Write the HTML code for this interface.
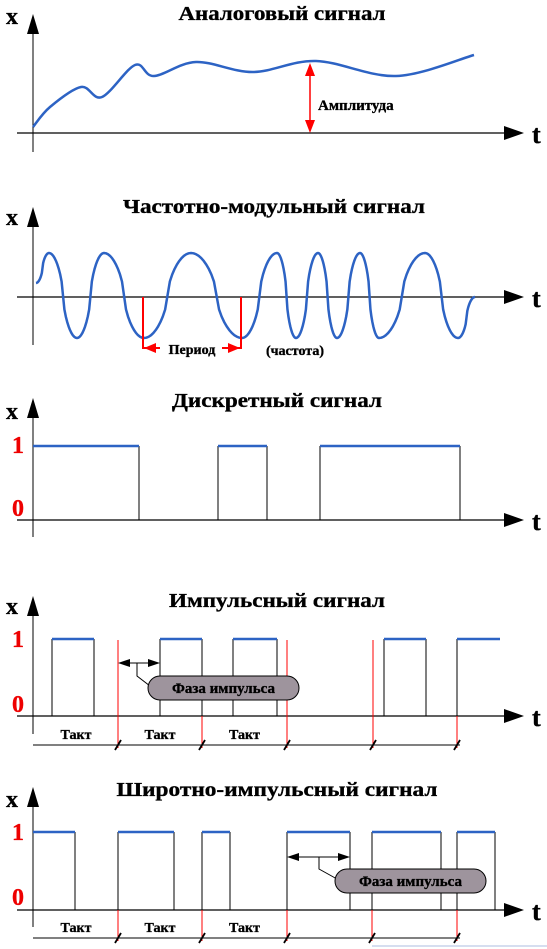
<!DOCTYPE html>
<html><head><meta charset="utf-8"><style>
html,body{margin:0;padding:0;background:#fff;}
svg{display:block;}
text{font-family:"Liberation Serif",serif;font-weight:bold;stroke:#000;stroke-width:0.35;}
</style></head><body>
<svg id="s" width="547" height="949" viewBox="0 0 547 949" xmlns="http://www.w3.org/2000/svg">
<g id="g"></g>
</svg>
<script>
// analog signal (x px, y px)
const analogT=[33,50,81,102,135,154,196,253,316,396,474];
const analogV=[127,107,87,97,65,76,62,72,61,76,55];
// FM signal extrema
const fmT=[36,49,77,104,144,191,242,277,296,318,337,360,379,425,458,475];
const fmV=[283,253,338,253,338,253,338,253,338,253,338,253,338,253,338,297];
// discrete pulses [start,end]
const discStart=[33,218,320];
const discEnd=[139,267,460];
// impulse pulses
const impStart=[52,160,233,384,457];
const impEnd=[94,202,277,426,500];
const impFall=[true,true,true,true,false];
const impClock=[118,202,287,373,457];
// PWM pulses
const pwmStart=[33,118,202,287,372,457];
const pwmEnd=[75,174,230,350,441,495];
const pwmClock=[118,202,287,372,457];
const taktLabels=["Такт","Такт","Такт"];

const NS="http://www.w3.org/2000/svg";
const G=document.getElementById('g');
function el(tag,attrs,parent){const e=document.createElementNS(NS,tag);for(const k in attrs)e.setAttribute(k,attrs[k]);(parent||G).appendChild(e);return e;}
function txt(x,y,s,size,fill,anchor,len){const e=el('text',{x:x,y:y,'font-size':size,fill:fill||'#000','text-anchor':anchor||'start'});e.style.stroke=fill||'#000';if(len){e.setAttribute('textLength',len);e.setAttribute('lengthAdjust','spacingAndGlyphs');}e.textContent=s;return e;}

function axes(name,top,axisY,bottom,title,tcx,tbase,tlen,xBase){
  const grp=el('g',{});
  
  
  const ya=el('line',{x1:33,y1:bottom,x2:33,y2:top+10,stroke:'#000','stroke-width':1},grp);
  
  
  const xa=el('line',{x1:17,y1:axisY,x2:510,y2:axisY,stroke:'#000','stroke-width':1.3},grp);
  
  
  el('path',{d:`M504,${axisY-7} L524,${axisY} L504,${axisY+7}z`,fill:'#000'},grp);
  el('path',{d:`M27,${top+20} L33,${top} L39,${top+20}z`,fill:'#000'},grp);
  const xl=txt(6,xBase,'x',24,'#000','start');grp.appendChild(xl);
  
  
  const tl=txt(532,axisY+10,'t',26,'#000','start');grp.appendChild(tl);
  
  
  const ti=txt(tcx,tbase,title,20,'#000','middle',tlen);grp.appendChild(ti);
  
  
  return grp;
}
function levels(grp,y1,y0){
  const a=txt(12,y1,'1',24,'#e00','start');grp.appendChild(a);
  
  
  const b=txt(12,y0,'0',24,'#e00','start');grp.appendChild(b);
  
  
}
function pulse(grp,s,e,hi,lo,fall){
  el('line',{x1:s,y1:hi,x2:s,y2:lo,stroke:'#000','stroke-width':1},grp);
  if(fall)el('line',{x1:e,y1:hi,x2:e,y2:lo,stroke:'#000','stroke-width':1},grp);
  const p=el('line',{x1:s,y1:hi,x2:e,y2:hi,stroke:'#2d63c4','stroke-width':2.5},grp);
  
  
}
function clocks(grp,xs,top,lineY){
  const tl=el('line',{x1:33,y1:lineY,x2:xs[xs.length-1]+3,y2:lineY,stroke:'#000','stroke-width':1},grp);
  
  
  xs.forEach(x=>{
    const r=el('line',{x1:x,y1:top,x2:x,y2:lineY+3,stroke:'#f00','stroke-width':1},grp);
    
    
    el('line',{x1:x-3,y1:lineY+5,x2:x+3,y2:lineY-5,stroke:'#000','stroke-width':1.8},grp);
  });
  taktLabels.forEach((s,i)=>{
    const cx=i===0?76:(xs[i-1]+xs[i])/2;
    const t=txt(cx,lineY-6,s,14,'#000','middle');grp.appendChild(t);
    
    
  });
}
function phase(grp,x1,x2,y,lx,bx,bw,by){
  el('line',{x1:x1+9,y1:y,x2:x2-9,y2:y,stroke:'#000','stroke-width':1},grp);
  el('path',{d:`M${x1},${y} L${x1+12},${y-4} L${x1+12},${y+4}z M${x2},${y} L${x2-12},${y-4} L${x2-12},${y+4}z`,fill:'#000'},grp);
  el('polyline',{points:`${lx},${y} ${lx},${by} ${bx+2},${by+10}`,fill:'none',stroke:'#000','stroke-width':1},grp);
  const b=el('rect',{x:bx,y:by,width:bw,height:24,rx:12,fill:'#9e949d',stroke:'#000','stroke-width':1},grp);
  
  
  const t=txt(bx+bw/2,by+17,'Фаза импульса',15,'#000','middle');grp.appendChild(t);
  
  
}

// Panel 1: analog (Catmull-Rom)
let g1=axes('analog-panel',14,133,152,'Аналоговый сигнал',282,20,207,24);
let d='M'+analogT[0]+','+analogV[0];
for(let i=0;i<analogT.length-1;i++){
  const p0=[analogT[Math.max(i-1,0)],analogV[Math.max(i-1,0)]];
  const p1=[analogT[i],analogV[i]],p2=[analogT[i+1],analogV[i+1]];
  const j=Math.min(i+2,analogT.length-1);const p3=[analogT[j],analogV[j]];
  const c1=[p1[0]+(p2[0]-p0[0])/6,p1[1]+(p2[1]-p0[1])/6];
  const c2=[p2[0]-(p3[0]-p1[0])/6,p2[1]-(p3[1]-p1[1])/6];
  d+=` C${c1[0]},${c1[1]} ${c2[0]},${c2[1]} ${p2[0]},${p2[1]}`;
}
const ap=el('path',{d:d,fill:'none',stroke:'#2d63c4','stroke-width':2.5},g1);


el('line',{x1:310,y1:72,x2:310,y2:124,stroke:'#f00','stroke-width':1.5},g1);
el('path',{d:'M305,76 L310,63 L315,76z M305,120 L310,133 L315,120z',fill:'#f00'},g1);
let at=txt(318,110,'Амплитуда',15,'#000','start');g1.appendChild(at);



// Panel 2: FM
let g2=axes('fm-panel',207,297,345,'Частотно-модульный сигнал',274,213,302,225);
let fd='M'+fmT[0]+','+fmV[0];
for(let i=1;i<fmT.length;i++){
  const x0=fmT[i-1],y0=fmV[i-1],x1=fmT[i],y1=fmV[i];
  for(let k=1;k<=20;k++){
    const u=k/20;
    const w=(1-Math.cos(Math.PI*u))/2;
    const ww=Math.sign(w-0.5)*Math.pow(Math.abs(2*w-1),0.6)/2+0.5;
    fd+=` L${(x0+(x1-x0)*u).toFixed(2)},${(y0+(y1-y0)*ww).toFixed(2)}`;
  }
}
const fp=el('path',{d:fd,fill:'none',stroke:'#2d63c4','stroke-width':2.5,'stroke-linejoin':'round'},g2);


el('line',{x1:143,y1:297,x2:143,y2:349,stroke:'#f00','stroke-width':2},g2);
el('line',{x1:241,y1:297,x2:241,y2:349,stroke:'#f00','stroke-width':2},g2);
el('line',{x1:143,y1:348,x2:160,y2:348,stroke:'#f00','stroke-width':2},g2);
el('line',{x1:222,y1:348,x2:241,y2:348,stroke:'#f00','stroke-width':2},g2);
el('path',{d:'M144,348 L156,343 L156,353z M240,348 L228,343 L228,353z',fill:'#f00'},g2);
let pt=txt(192,354,'Период',14,'#000','middle');g2.appendChild(pt);


let ft=txt(295,355,'(частота)',14,'#000','middle');g2.appendChild(ft);



// Panel 3: discrete
let g3=axes('discrete-panel',398,520,537,'Дискретный сигнал',277,407,210,419);
levels(g3,453,516);
discStart.forEach((s,i)=>pulse(g3,s,discEnd[i],446,520,true));

// Panel 4: impulse
let g4=axes('impulse-panel',596,716,734,'Импульсный сигнал',277,607,216,614);
levels(g4,647,712);
clocks(g4,impClock,640,745);
impStart.forEach((s,i)=>pulse(g4,s,impEnd[i],639,716,impFall[i]));
phase(g4,118,160,663,137,148,151,676);

// Panel 5: PWM
let g5=axes('pwm-panel',787,910,927,'Широтно-импульсный сигнал',277,796,321,807);
levels(g5,840,905);
clocks(g5,pwmClock,832,938);
pwmStart.forEach((s,i)=>pulse(g5,s,pwmEnd[i],832,910,true));
phase(g5,287,350,857,319,335,151,869);
el('line',{x1:372,y1:946,x2:547,y2:946,stroke:'#c8d4ec','stroke-width':1.5});
</script>
</body></html>
